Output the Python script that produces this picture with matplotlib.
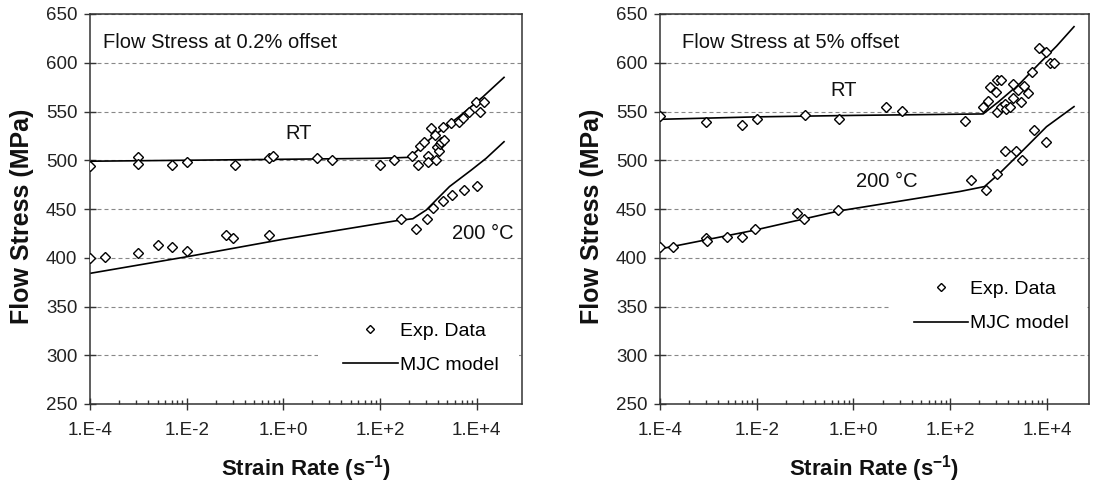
import matplotlib
matplotlib.use("Agg")
import matplotlib.pyplot as plt
from matplotlib.ticker import FixedLocator, FixedFormatter, NullFormatter
from matplotlib.patches import Rectangle

plt.rcParams['font.family'] = ['Liberation Sans', 'DejaVu Sans']
plt.rcParams['mathtext.fontset'] = 'custom'
plt.rcParams['mathtext.rm'] = 'Liberation Sans'
plt.rcParams['mathtext.bf'] = 'Liberation Sans:bold'
plt.rcParams['mathtext.it'] = 'Liberation Sans:italic'

# ---------------- flow stress at 0.2 % offset ----------------
rt02_rate   = [1e-4, 1e-3, 1e-3, 5e-3, 1e-2, 0.1, 0.5, 0.6, 5, 10, 100, 200,
               470, 600, 660, 830, 980, 980, 1150, 1350, 1450, 1500, 1650, 1750,
               1800, 2000, 2150, 2950, 4250, 5250, 7100, 9800, 11700, 14500]
rt02_stress = [494, 503, 496, 495, 498, 495, 502, 504, 502, 500, 495, 500,
               504, 495, 515, 519, 504, 498, 533, 526, 500, 514, 510, 517,
               519, 534, 521, 538, 539, 543, 550, 560, 550, 560]
rt02_model_rate   = [1e-4, 1e-2, 1, 100, 410, 1230, 4400, 13500, 37000]
rt02_model_stress = [499, 500, 501, 502, 503, 524, 545, 565, 585]

t200_02_rate   = [1e-4, 2e-4, 1e-3, 2.5e-3, 5e-3, 1e-2, 0.066, 0.09, 0.5,
                  275, 560, 950, 1250, 2000, 3100, 5400, 10000]
t200_02_stress = [400, 401, 405, 413, 411, 407, 423, 420, 423,
                  440, 429, 440, 451, 458, 464, 470, 474]
t200_02_model_rate   = [1e-4, 1e-2, 1, 220, 480, 910, 2750, 7800, 15800, 37000]
t200_02_model_stress = [384, 401, 419, 438, 440, 449, 473, 490, 502, 519]

# ---------------- flow stress at 5 % offset ----------------
rt5_rate   = [1e-4, 9e-4, 5e-3, 1e-2, 0.1, 0.5, 4.7, 10, 200,
              470, 600, 660, 870, 930, 1100, 930, 1150, 1350, 1450, 1700,
              2000, 2000, 2500, 2950, 3300, 4100, 4800, 6800, 9800, 11500, 13800]
rt5_stress = [545, 539, 536, 542, 546, 542, 555, 551, 540,
              555, 561, 575, 570, 582, 582, 549, 555, 558, 553, 555,
              578, 564, 572, 560, 576, 569, 591, 615, 611, 600, 600]
rt5_model_rate   = [1e-4, 1e-2, 1, 480, 1000, 2800, 7200, 15800, 36300]
rt5_model_stress = [542, 544.5, 546, 547.5, 560, 579, 600, 617, 637]

t200_5_rate   = [1e-4, 1.9e-4, 9e-4, 9.5e-4, 2.4e-3, 4.9e-3, 9.3e-3, 0.068, 0.095, 0.49,
                 275, 560, 930, 1350, 2300, 3100, 5400, 9800]
t200_5_stress = [411, 411, 420, 417, 421, 421, 429, 446, 440, 449,
                 480, 470, 486, 510, 510, 500, 531, 519]
t200_5_model_rate   = [1e-4, 8.5e-3, 0.5, 160, 510, 1050, 3240, 9800, 36300]
t200_5_model_stress = [409, 428, 448, 468, 473, 486.6, 510.5, 534.4, 555]

x_ticks = [1e-4, 1e-2, 1, 1e2, 1e4]
x_ticklabels = ['1.E-4', '1.E-2', '1.E+0', '1.E+2', '1.E+4']
y_ticks = [250, 300, 350, 400, 450, 500, 550, 600, 650]

fig = plt.figure(figsize=(10.97, 4.83), dpi=100)
axL = fig.add_axes([90/1097, 79/483, 432/1097, 390/483])
axR = fig.add_axes([660/1097, 79/483, 429/1097, 390/483])


def panel(ax, xmax, title, title_x, rt, t200, rt_txt, t_txt, leg_xy, patch):
    (r_x, r_y, rm_x, rm_y) = rt
    (t_x, t_y, tm_x, tm_y) = t200

    ax.set_xscale('log')
    ax.set_xlim(1e-4, xmax)
    ax.set_ylim(250, 650)

    mk = dict(ls='none', marker='D', ms=5.5, mfc='white', mec='black', mew=1.0, zorder=3)
    ln = dict(color='black', lw=1.2, zorder=2)
    ax.plot(r_x, r_y, label='Exp. Data', **mk)
    ax.plot(t_x, t_y, **mk)
    ax.plot(rm_x, rm_y, label='MJC model', **ln)
    ax.plot(tm_x, tm_y, **ln)

    # excel style ticks: majors every two decades, minors at k^2 steps
    ax.xaxis.set_major_locator(FixedLocator(x_ticks))
    ax.xaxis.set_major_formatter(FixedFormatter(x_ticklabels))
    ax.xaxis.set_minor_locator(FixedLocator([m * k**2 for m in x_ticks[:-1] for k in range(2, 10)]))
    ax.xaxis.set_minor_formatter(NullFormatter())
    ax.yaxis.set_major_locator(FixedLocator(y_ticks))

    ax.tick_params(which='major', direction='inout', length=8, width=1, color='#333',
                   labelsize=13.5, labelcolor='#222')
    ax.tick_params(axis='x', which='major', pad=9)
    ax.tick_params(axis='y', which='major', pad=5)
    ax.tick_params(axis='x', which='minor', direction='in', length=3, width=1, color='#333')
    ax.tick_params(axis='y', which='minor', left=False)

    for s in ax.spines.values():
        s.set_color('#333')
        s.set_linewidth(1.1)

    ax.set_axisbelow(True)
    ax.yaxis.grid(True, color='#888', linestyle=(0, (3.6, 2.7)), linewidth=0.8)

    ax.set_xlabel('Strain Rate (s$\\mathbf{^{-1}}$)', fontsize=16, fontweight='bold', color='#111')
    ax.set_ylabel('Flow Stress (MPa)', fontsize=18, fontweight='bold', color='#111')
    ax.xaxis.set_label_coords(0.5, -0.125)
    ax.yaxis.set_label_coords(-0.13, 0.48)

    ax.text(title_x, 0.927, title, transform=ax.transAxes,
            ha='left', va='center', fontsize=14.5, color='#111')
    ax.text(rt_txt[0], rt_txt[1], 'RT', transform=ax.transAxes,
            ha='center', va='center', fontsize=14.5, color='#111')
    ax.text(t_txt[0], t_txt[1], '200 °C', transform=ax.transAxes,
            ha='center', va='center', fontsize=14.5, color='#111')

    # white box under the legend
    ax.add_patch(Rectangle((patch[0], patch[1]), patch[2], patch[3], transform=ax.transAxes,
                           facecolor='white', edgecolor='none', zorder=1))
    ax.legend(loc='center left', bbox_to_anchor=leg_xy, frameon=False, fontsize=14,
              borderpad=0, borderaxespad=0, handlelength=2.8, handletextpad=0.1,
              labelspacing=0.85, numpoints=1, markerscale=0.7)


panel(axL, 10**4.94, 'Flow Stress at 0.2% offset', 0.031,
      (rt02_rate, rt02_stress, rt02_model_rate, rt02_model_stress),
      (t200_02_rate, t200_02_stress, t200_02_model_rate, t200_02_model_stress),
      (0.482, 0.694), (0.909, 0.437), (0.586, 0.144), (0.528, 0.082, 0.465, 0.146))

panel(axR, 10**4.87, 'Flow Stress at 5% offset', 0.051,
      (rt5_rate, rt5_stress, rt5_model_rate, rt5_model_stress),
      (t200_5_rate, t200_5_stress, t200_5_model_rate, t200_5_model_stress),
      (0.429, 0.805), (0.529, 0.570), (0.592, 0.250), (0.538, 0.164, 0.457, 0.180))

fig.savefig('out.png', dpi=100)
